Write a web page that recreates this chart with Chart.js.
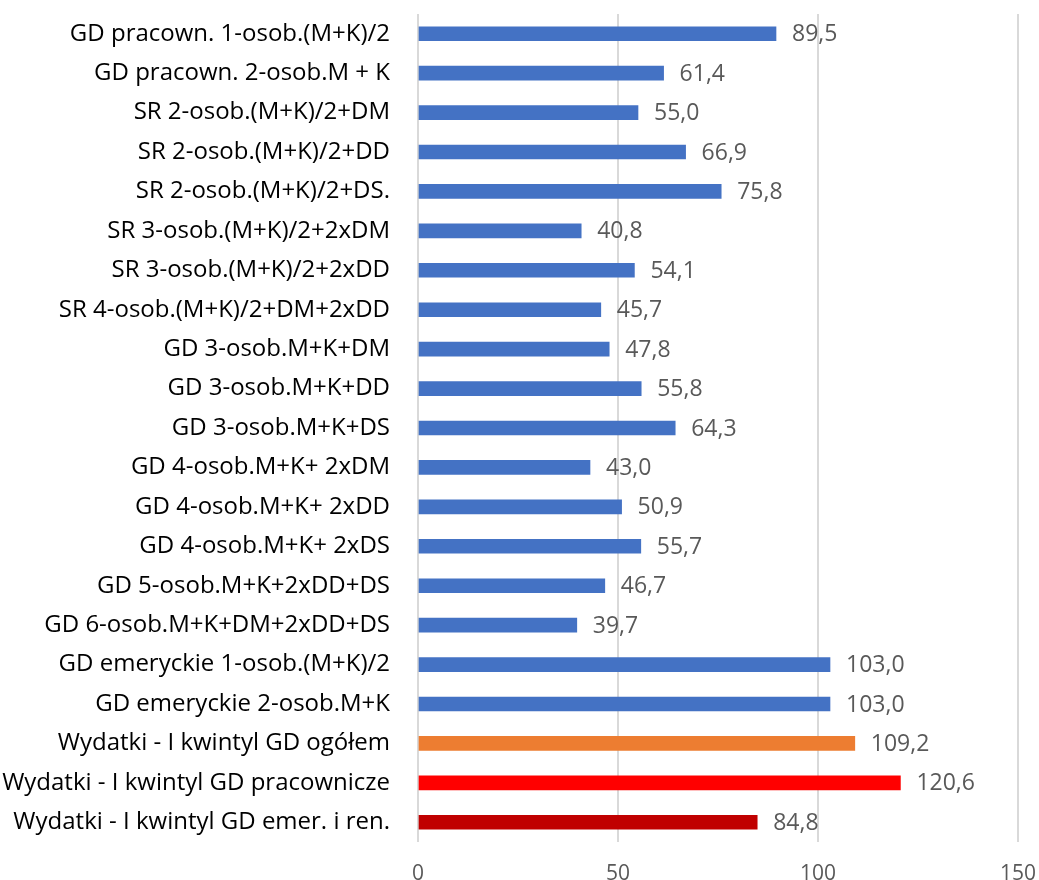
<!DOCTYPE html>
<html>
<head>
<meta charset="utf-8">
<script src="https://cdn.jsdelivr.net/npm/chart.js@4"></script>
<style>
  html, body { margin: 0; padding: 0; background: #fff; }
  #wrap { width: 1039px; height: 880px; }
</style>
</head>
<body>
<div id="wrap"><canvas id="chart"></canvas></div>
<script>
// Categories, top to bottom
const categories = [
    'GD pracown. 1-osob.(M+K)/2',
    'GD pracown. 2-osob.M + K',
    'SR 2-osob.(M+K)/2+DM',
    'SR 2-osob.(M+K)/2+DD',
    'SR 2-osob.(M+K)/2+DS.',
    'SR 3-osob.(M+K)/2+2xDM',
    'SR 3-osob.(M+K)/2+2xDD',
    'SR 4-osob.(M+K)/2+DM+2xDD',
    'GD 3-osob.M+K+DM',
    'GD 3-osob.M+K+DD',
    'GD 3-osob.M+K+DS',
    'GD 4-osob.M+K+ 2xDM',
    'GD 4-osob.M+K+ 2xDD',
    'GD 4-osob.M+K+ 2xDS',
    'GD 5-osob.M+K+2xDD+DS',
    'GD 6-osob.M+K+DM+2xDD+DS',
    'GD emeryckie 1-osob.(M+K)/2',
    'GD emeryckie 2-osob.M+K',
    'Wydatki - I kwintyl GD ogółem',
    'Wydatki - I kwintyl GD pracownicze',
    'Wydatki - I kwintyl GD emer. i ren.'
];

const values = [89.5, 61.4, 55.0, 66.9, 75.8, 40.8, 54.1, 45.7, 47.8, 55.8, 64.3,
                43.0, 50.9, 55.7, 46.7, 39.7, 103.0, 103.0, 109.2, 120.6, 84.8];

const xTicks = [0, 50, 100, 150];

// bar colours: household types blue, expenditure rows highlighted
const barColors = categories.map((c, i) => {
    if (i === 18) return '#ED7D31';
    if (i === 19) return '#FF0000';
    if (i === 20) return '#C00000';
    return '#4472C4';
});

function formatValue(v) {
    return v.toFixed(1).replace('.', ',');
}

// draw value labels at bar ends
const valueLabels = {
    id: 'valueLabels',
    afterDatasetsDraw(chart) {
        const ctx = chart.ctx;
        const meta = chart.getDatasetMeta(0);
        ctx.save();
        ctx.font = '23px "Open Sans"';
        ctx.fillStyle = '#595959';
        ctx.textAlign = 'left';
        ctx.textBaseline = 'middle';
        meta.data.forEach((bar, i) => {
            ctx.fillText(formatValue(values[i]), bar.x + 16, bar.y + 1);
        });
        ctx.restore();
    }
};

const ctx = document.getElementById('chart').getContext('2d');
new Chart(ctx, {
    type: 'bar',
    data: {
        labels: categories,
        datasets: [{
            data: values,
            backgroundColor: barColors,
            barThickness: 14
        }]
    },
    options: {
        indexAxis: 'y',
        responsive: true,
        maintainAspectRatio: false,
        animation: false,
        layout: { padding: { top: 14, right: 21, left: 0, bottom: 0 } },
        plugins: {
            legend: { display: false },
            tooltip: { enabled: false }
        },
        scales: {
            x: {
                min: 0,
                max: 150,
                afterBuildTicks: (scale) => { scale.ticks = xTicks.map(v => ({ value: v })); },
                afterFit: (scale) => {
                    scale.height = 38;
                    scale.paddingLeft = 0;
                    scale.paddingRight = 0;
                },
                grid: { color: '#d9d9d9', lineWidth: 2, drawTicks: false },
                border: { display: false },
                ticks: {
                    padding: 19,
                    color: '#595959',
                    font: { family: 'Open Sans', size: 21 }
                }
            },
            y: {
                afterFit: (scale) => {
                    scale.width = 418;
                    scale.paddingTop = 0;
                    scale.paddingBottom = 0;
                },
                grid: { display: false, drawTicks: false },
                border: { display: false },
                ticks: {
                    padding: 28,
                    color: '#000',
                    font: { family: 'Open Sans', size: 24 }
                }
            }
        }
    },
    plugins: [valueLabels]
});
</script>
</body>
</html>
